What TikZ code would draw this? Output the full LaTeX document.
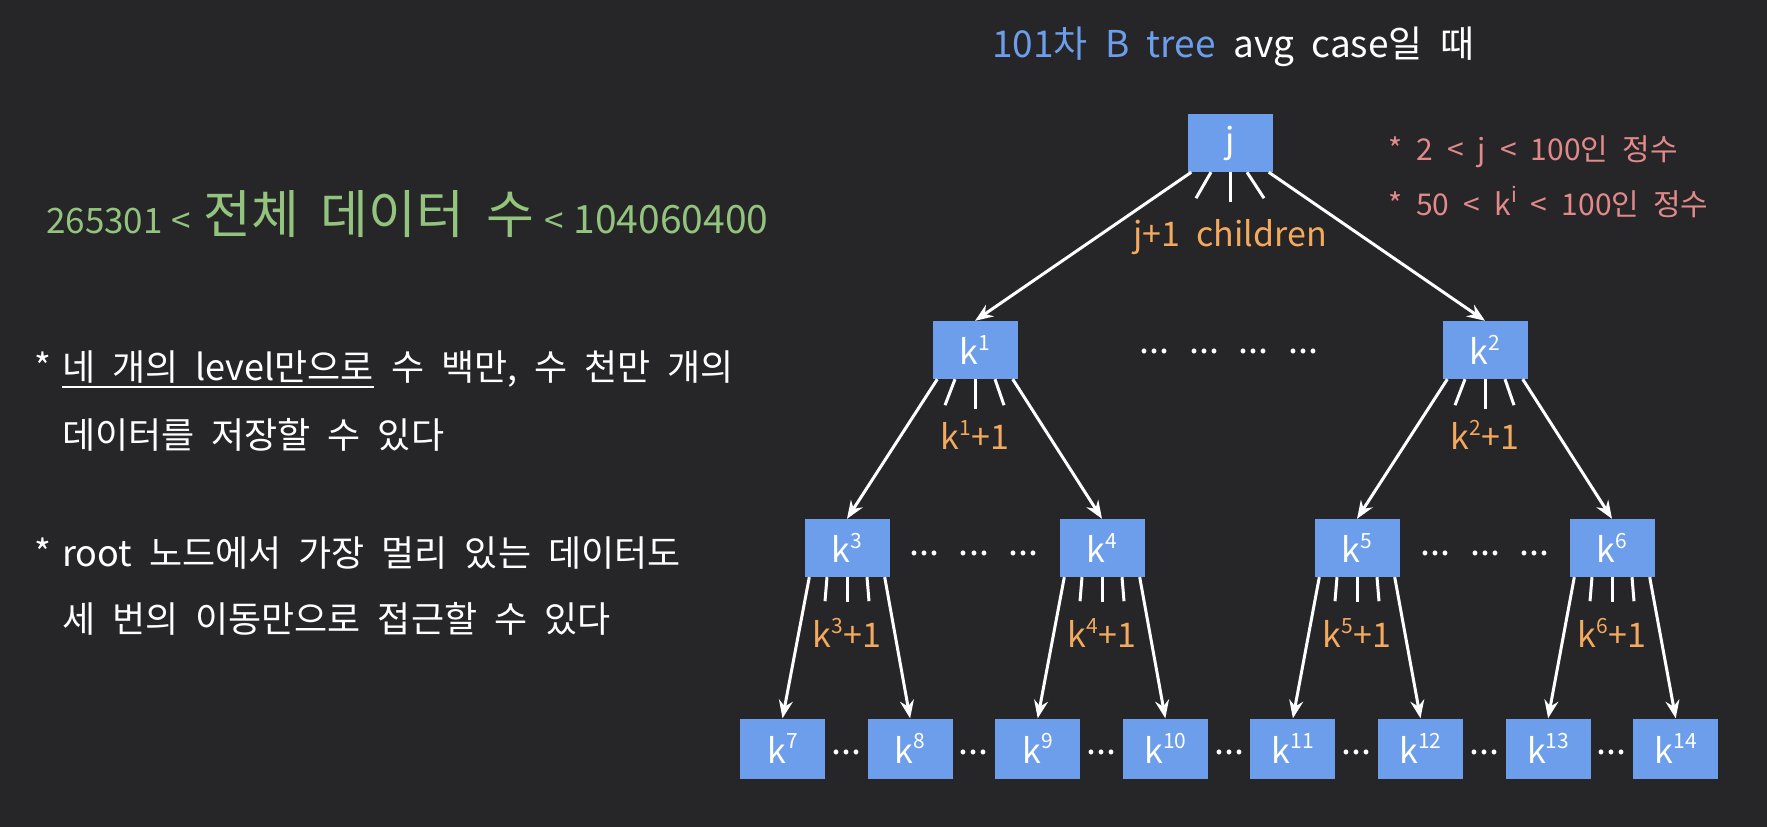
\documentclass[tikz,border=0pt]{standalone}
\usepackage{fontspec}
\setmainfont{Noto Sans CJK KR}[WordSpace=2.1]
\usetikzlibrary{arrows.meta}
\definecolor{bg}{HTML}{262528}
\definecolor{boxblue}{HTML}{6D9EEB}
\definecolor{tgreen}{HTML}{93C47D}
\definecolor{tpink}{HTML}{E28A8A}
\definecolor{torange}{HTML}{F3AA5E}
\newcommand\mysup[1]{\raisebox{0.42em}{\fontsize{21}{21}\selectfont #1}}
\tikzset{
  bnode/.style={fill=boxblue, minimum width=85pt, minimum height=58pt, inner sep=0pt, text=white, font=\fontsize{34}{34}\selectfont},
  arr/.style={draw=white, line width=3pt, -{Stealth[length=18pt,width=14pt,inset=6pt]}},
  fan/.style={draw=white, line width=3pt},
  lbl/.style={text=torange, inner sep=0pt, font=\fontsize{34}{34}\selectfont},
  txt/.style={text=white, inner sep=0pt, anchor=base west, font=\fontsize{36}{40}\selectfont},
  dotsx/.style={text=white, inner sep=0pt, anchor=base, font=\fontsize{36}{36}\selectfont},
}
\begin{document}
\begin{tikzpicture}[x=1pt,y=-1pt]
\fill[bg] (0,0) rectangle (1767,827);
\useasboundingbox (0,0) rectangle (1767,827);

% title
\node[txt, font=\fontsize{37}{40}\selectfont] (title) at (992,57) {{\color{boxblue}101차 B tree} avg case일 때};

% pink notes
\node[txt, text=tpink, font=\fontsize{30}{34}\selectfont] (n1) at (1388,160) {* 2 < j < 100인 정수};
\node[txt, text=tpink, font=\fontsize{30}{34}\selectfont] (n2) at (1388,215) {* 50 < k\mysup{i} < 100인 정수};

% green
\node[txt, text=tgreen, font=\fontsize{35}{40}\selectfont] (g) at (46,233) {265301\hspace{9pt}<\hspace{12pt}{\fontsize{52}{54}\selectfont 전체\hspace{22pt}데이터\hspace{22pt}수}\hspace{10pt}<\hspace{10pt}{\fontsize{39}{42}\selectfont 104060400}};

% left text
\node[txt] (l1s) at (34,380) {*};
\node[txt] (l1u) at (62,380) {네 개의 level만으로};
\node[txt] (l1r) at ([xshift=17pt]l1u.base east) {수 백만, 수 천만 개의};
\draw[white, line width=2.5pt] ([yshift=-7pt]l1u.base west) -- ([yshift=-7pt]l1u.base east);
\node[txt] (l2) at (62,448) {데이터를 저장할 수 있다};
\node[txt] (l3s) at (34,566) {*};
\node[txt] (l3) at (62,566) {root 노드에서 가장 멀리 있는 데이터도};
\node[txt] (l4) at (62,632) {세 번의 이동만으로 접근할 수 있다};

% tree nodes
\node[bnode] (j) at (1230,143) {j};
\node[bnode] (k1) at (975,350) {k\mysup{1}};
\node[bnode] (k2) at (1485,350) {k\mysup{2}};
\node[bnode] (k3) at (847,548) {k\mysup{3}};
\node[bnode] (k4) at (1102,548) {k\mysup{4}};
\node[bnode] (k5) at (1357,548) {k\mysup{5}};
\node[bnode] (k6) at (1612,548) {k\mysup{6}};
\foreach \i [evaluate=\i as \xx using {782.5+127.6*(\i-7)}] in {7,...,14} {
  \node[bnode, minimum height=60pt] (k\i) at (\xx,748.5) {k\mysup{\i}};
}

% j fan
\draw[arr] ([xshift=4pt]j.south west) -- (k1.north);
\draw[arr] ([xshift=-4pt]j.south east) -- (k2.north);
\draw[fan] ([xshift=-19pt]j.south) -- ++(-15,26);
\draw[fan] (j.south) -- ++(0,30);
\draw[fan] ([xshift=17pt]j.south) -- ++(17,26);
\node[lbl] (jl) at (1230,237) {j+1 children};

% level 2 fans
\foreach \p/\a/\b in {k1/k3/k4, k2/k5/k6} {
  \draw[arr] ([xshift=5pt]\p.south west) -- (\a.north);
  \draw[arr] ([xshift=-5pt]\p.south east) -- (\b.north);
  \draw[fan] ([xshift=-20pt]\p.south) -- ++(-10,26);
  \draw[fan] (\p.south) -- ++(0,30);
  \draw[fan] ([xshift=20pt]\p.south) -- ++(9,26);
}
\node[lbl] (k1l) at (975,435) {k\mysup{1}+1};
\node[lbl] (k2l) at (1485,435) {k\mysup{2}+1};

% level 3 fans
\foreach \p/\a/\b in {k3/k7/k8, k4/k9/k10, k5/k11/k12, k6/k13/k14} {
  \draw[arr] ([xshift=5pt]\p.south west) -- (\a.north);
  \draw[arr] ([xshift=-5pt]\p.south east) -- (\b.north);
  \draw[fan] ([xshift=-20pt]\p.south) -- ++(-2,24);
  \draw[fan] (\p.south) -- ++(0,25);
  \draw[fan] ([xshift=20pt]\p.south) -- ++(2,24);
}
\node[lbl] (k3l) at (847,633) {k\mysup{3}+1};
\node[lbl] (k4l) at (1102,633) {k\mysup{4}+1};
\node[lbl] (k5l) at (1357,633) {k\mysup{5}+1};
\node[lbl] (k6l) at (1612,633) {k\mysup{6}+1};

% dots
\node[dotsx] (d2) at (1229,353) {... ... ... ...};
\node[dotsx] (d3a) at (974,555) {... ... ...};
\node[dotsx] (d3b) at (1485,555) {... ... ...};
\foreach \i [evaluate=\i as \xx using {846.3+127.6*(\i-7)}] in {7,...,13} {
  \node[dotsx] (b\i) at (\xx,754) {...};
}
\end{tikzpicture}
\end{document}
